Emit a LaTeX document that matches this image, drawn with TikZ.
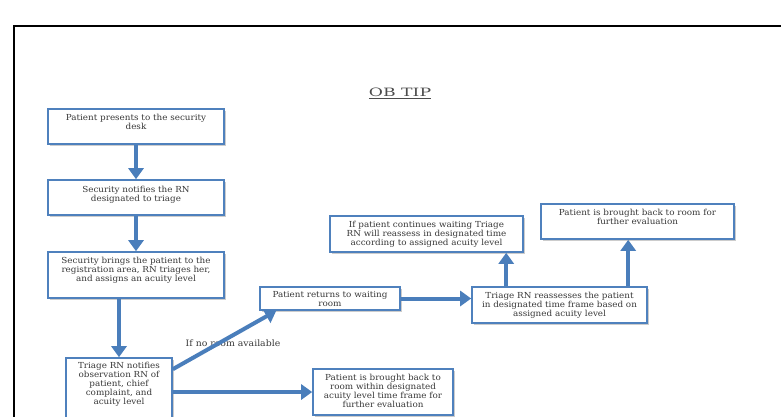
\documentclass[tikz,border=0pt]{standalone}
\usepackage{fontspec}
\setmainfont{DejaVu Serif}
\newfontfamily\bodyfont[FakeStretch=1.06]{DejaVu Serif}
\newfontfamily\titlefont[FakeStretch=1.5]{DejaVu Serif}
\usetikzlibrary{arrows.meta,calc,shadows}
\definecolor{obblue}{HTML}{4F81BD}
\definecolor{arrblue}{HTML}{4A7EBB}
\tikzset{
  box/.style={draw=obblue, line width=1.6pt, fill=white, rectangle, inner sep=0pt,
    drop shadow={shadow xshift=1.5pt, shadow yshift=-1.5pt, opacity=0.4}},
  txt/.style={anchor=north, align=center, inner sep=0pt, font=\bodyfont\fontsize{8.3}{9}\selectfont, text=black!78},
  lbl/.style={inner sep=0pt, font=\bodyfont\fontsize{8.8}{9}\selectfont, text=black!78},
  flow/.style={draw=arrblue, line width=4pt, -{Triangle[width=15pt,length=11pt]}},
}
\begin{document}
\begin{tikzpicture}[x=1pt,y=-1pt]
\useasboundingbox (0,0) rectangle (781,416);
\clip (0,0) rectangle (781,416);
\draw[line width=2.2pt] (14,440) -- (14,26) -- (800,26);

\node[font=\titlefont\fontsize{11.5}{14}\selectfont, text=black!70, inner sep=0pt] (title) at (400,93) {\underline{OB TIP}};

\node[box, minimum width=176pt, minimum height=35pt] (b1) at (136,126.5) {};
\node[box, minimum width=176pt, minimum height=35pt] (b2) at (136,197.5) {};
\node[box, minimum width=176pt, minimum height=46pt] (b3) at (136,275) {};
\node[box, minimum width=106pt, minimum height=67pt] (b4) at (119,391.5) {};
\node[box, minimum width=140pt, minimum height=23pt] (b5) at (330,298.5) {};
\node[box, minimum width=175pt, minimum height=36pt] (b6) at (559.5,305) {};
\node[box, minimum width=193pt, minimum height=36pt] (b7) at (426.5,234) {};
\node[box, minimum width=193pt, minimum height=35pt] (b8) at (637.5,221.5) {};
\node[box, minimum width=140pt, minimum height=46pt] (b9) at (383,392) {};

\node[txt] (t1) at ($(b1.north)+(0,5.5)$) {Patient presents to the security\\desk};
\node[txt] (t2) at ($(b2.north)+(0,6.5)$) {Security notifies the RN\\designated to triage};
\node[txt] (t3) at ($(b3.north)+(0,5.5)$) {Security brings the patient to the\\registration area, RN triages her,\\and assigns an acuity level};
\node[txt] (t4) at ($(b4.north)+(0,4.5)$) {Triage RN notifies\\observation RN of\\patient, chief\\complaint, and\\acuity level};
\node[txt] (t5) at ($(b5.north)+(0,4.5)$) {Patient returns to waiting\\room};
\node[txt] (t6) at ($(b6.north)+(0,5.5)$) {Triage RN reassesses the patient\\in designated time frame based on\\assigned acuity level};
\node[txt] (t7) at ($(b7.north)+(0,5.5)$) {If patient continues waiting Triage\\RN will reassess in designated time\\according to assigned acuity level};
\node[txt] (t8) at ($(b8.north)+(0,5.5)$) {Patient is brought back to room for\\further evaluation};
\node[txt] (t9) at ($(b9.north)+(0,5.5)$) {Patient is brought back to\\room within designated\\acuity level time frame for\\further evaluation};

\node[lbl] (l1) at (233,343) {If no room available};

\draw[flow] (b1) -- (b2);
\draw[flow] (b2) -- (b3);
\draw[flow] (b3.south -| b4.north) -- (b4.north);
\coordinate (c45) at ($(b4.north east)+(0,12)$);
\coordinate (c5in) at ($(b5.south west)+(17,0)$);
\draw[flow] (c45) -- (c5in);
\draw[flow] (b4.east |- b9.west) -- (b9.west);
\draw[flow] (b5.east) -- (b5.east -| b6.west);
\coordinate (c67) at ($(b6.north west)+(35,0)$);
\draw[flow] (c67) -- (c67 |- b7.south);
\coordinate (c68) at ($(b6.north west)+(157,0)$);
\draw[flow] (c68) -- (c68 |- b8.south);
\end{tikzpicture}
\end{document}
